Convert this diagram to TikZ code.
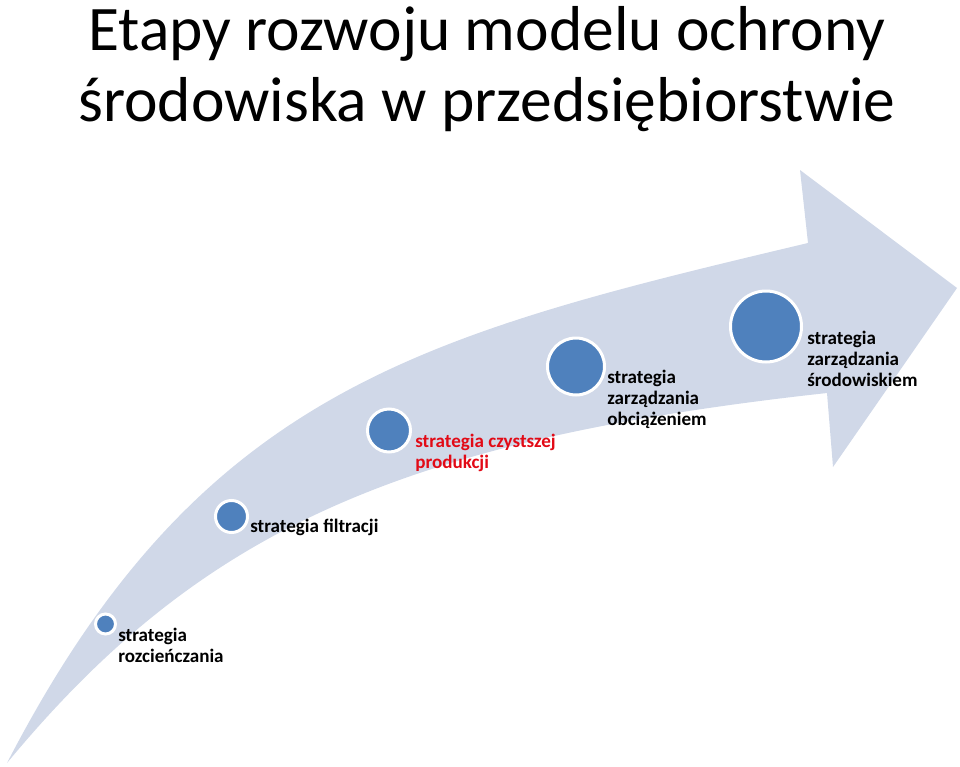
\documentclass[tikz,border=0pt]{standalone}
\usepackage{fontspec}
\setmainfont{Carlito}
\definecolor{arrowfill}{RGB}{208,216,232}
\definecolor{dotblue}{RGB}{79,129,189}
\definecolor{labelred}{RGB}{226,10,22}
\begin{document}
\begin{tikzpicture}[x=0.75pt,y=-0.75pt,
  dot/.style={circle, fill=dotblue, draw=white, line width=2.25pt, inner sep=0pt},
  lbl/.style={anchor=base west, align=left, inner sep=0pt,
    font=\fontsize{14.3}{15.75}\selectfont\bfseries},
  ttl/.style={anchor=base, align=center, inner sep=0pt,
    font=\fontsize{47.6}{54}\selectfont}]
\useasboundingbox (0,0) rectangle (960,767);
% title (anchor = baseline of the last line)
\node[ttl] (title) at (487,122) {Etapy rozwoju modelu ochrony\\środowiska w przedsiębiorstwie};
% curved arrow
\fill[arrowfill] (7,763) .. controls (200,390) and (420,335) .. (808,243)
  -- (800,170) -- (957,288) -- (833,467) -- (827,393)
  .. controls (400,440) and (200,530) .. (7,763) -- cycle;
% circles
\node[dot, minimum size=15pt] (c1) at (105.5,624) {};
\node[dot, minimum size=24pt] (c2) at (231.5,516.5) {};
\node[dot, minimum size=32.25pt] (c3) at (389,430.5) {};
\node[dot, minimum size=42.75pt] (c4) at (576,366.5) {};
\node[dot, minimum size=53.25pt] (c5) at (766,326.5) {};
% labels (anchor = baseline of the last line)
\node[lbl] (t1) at (118,662) {strategia\\rozcieńczania};
\node[lbl] (t2) at (250,532) {strategia filtracji};
\node[lbl, text=labelred] (t3) at (415,468) {strategia czystszej\\produkcji};
\node[lbl] (t4) at (607,425) {strategia\\zarządzania\\obciążeniem};
\node[lbl] (t5) at (807,386) {strategia\\zarządzania\\środowiskiem};
\end{tikzpicture}
\end{document}
